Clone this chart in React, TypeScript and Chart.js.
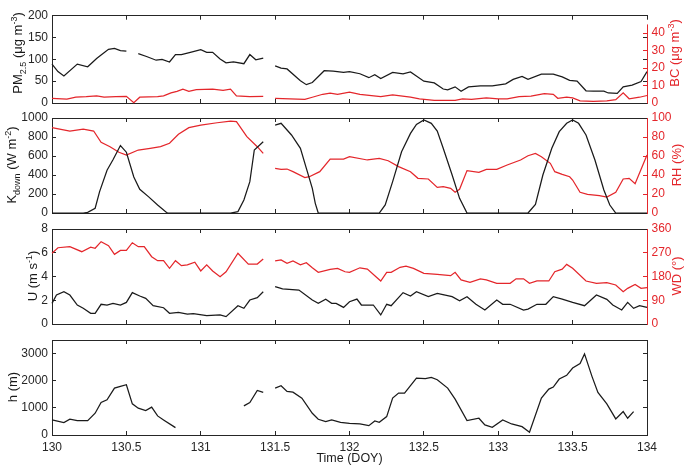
import React, { useEffect, useRef } from 'react';
import { Chart, registerables } from 'chart.js';

Chart.register(...registerables);

const W = 685;
const H = 465;
const FONT = '"Liberation Sans", Arial, Helvetica, sans-serif';
const BLACK = '#1a1a1a';
const FRAME = '#262626';
const RED = '#e4262b';

type Pt = [number, number | null];

// ---- Tick labels ----
const X_TICKS = [130, 130.5, 131, 131.5, 132, 132.5, 133, 133.5, 134];
const PM_TICKS = [0, 50, 100, 150, 200];
const BC_TICKS = [0, 10, 20, 30, 40];
const K_TICKS = [0, 200, 400, 600, 800, 1000];
const RH_TICKS = [0, 20, 40, 60, 80, 100];
const U_TICKS = [0, 2, 4, 6, 8];
const WD_TICKS = [0, 90, 180, 270, 360];
const H_TICKS = [0, 1000, 2000, 3000];

// ---- Series (time DOY, value) ----
const PM25: Pt[] = [
  [130.00, 89], [130.04, 72], [130.08, 62], [130.17, 89], [130.24, 83], [130.30, 102], [130.33, 110],
  [130.38, 123], [130.42, 125], [130.46, 120], [130.50, 119], [130.54, null], [130.58, 113], [130.64, 106],
  [130.70, 98], [130.74, 100], [130.79, 94], [130.83, 111], [130.87, 111], [130.93, 116], [131.00, 122],
  [131.04, 116], [131.08, 116], [131.13, 101], [131.17, 92], [131.22, 94], [131.29, 90], [131.33, 111],
  [131.37, 99], [131.42, 103], [131.46, null], [131.50, 85], [131.54, 80], [131.58, 78], [131.67, 51],
  [131.71, 42], [131.75, 47], [131.83, 74], [131.89, 73], [131.96, 70], [132.00, 72], [132.07, 67],
  [132.13, 58], [132.17, 65], [132.21, 56], [132.29, 70], [132.36, 67], [132.41, 71], [132.50, 50],
  [132.57, 46], [132.63, 32], [132.66, 30], [132.71, 37], [132.75, 27], [132.80, 37], [132.88, 39],
  [132.96, 39], [133.05, 44], [133.10, 54], [133.16, 61], [133.20, 54], [133.29, 66], [133.37, 66],
  [133.43, 60], [133.48, 52], [133.53, 50], [133.59, 28], [133.64, 27], [133.71, 27], [133.74, 23],
  [133.80, 22], [133.84, 37], [133.90, 41], [133.96, 49], [134.00, 72],
];

const BC: Pt[] = [
  [130.00, 2.7], [130.10, 2.2], [130.16, 3.3], [130.23, 3.6], [130.30, 4.1], [130.35, 3.3], [130.43, 3.6],
  [130.50, 3.8], [130.55, 0.2], [130.59, 3.3], [130.71, 3.6], [130.75, 4.1], [130.80, 5.8], [130.84, 6.7],
  [130.88, 7.9], [130.92, 6.7], [130.97, 7.6], [131.08, 7.9], [131.15, 7.2], [131.20, 7.9], [131.24, 4.1],
  [131.33, 3.6], [131.42, 3.8], [131.46, null], [131.50, 2.7], [131.60, 2.4], [131.70, 2.1], [131.75, 3.3],
  [131.82, 5.0], [131.87, 5.7], [131.92, 5.0], [132.00, 6.2], [132.07, 5.0], [132.21, 3.6], [132.29, 4.6],
  [132.41, 3.3], [132.47, 2.4], [132.57, 1.5], [132.71, 1.5], [132.76, 2.4], [132.82, 2.1], [132.92, 2.9],
  [133.00, 2.4], [133.06, 2.4], [133.14, 3.6], [133.22, 4.0], [133.31, 5.3], [133.37, 5.0], [133.40, 2.7],
  [133.46, 3.3], [133.50, 2.9], [133.55, 1.2], [133.64, 1.0], [133.73, 1.2], [133.79, 1.9], [133.84, 5.8],
  [133.88, 2.4], [133.95, 3.3], [134.00, 4.3],
];

const KDOWN: Pt[] = [
  [130.00, 0], [130.21, 0], [130.24, 7], [130.29, 50], [130.32, 225], [130.37, 450], [130.41, 560],
  [130.46, 710], [130.50, 640], [130.55, 380], [130.59, 250], [130.65, 170], [130.71, 85], [130.77, 5],
  [130.78, 0], [131.20, 0], [131.25, 15], [131.29, 137], [131.33, 330], [131.36, 663], [131.42, 750],
  [131.46, null], [131.50, 926], [131.54, 944], [131.61, 821], [131.67, 681], [131.71, 470], [131.75, 260],
  [131.77, 102], [131.79, 0], [132.20, 0], [132.24, 85], [132.29, 330], [132.35, 645], [132.41, 838],
  [132.45, 933], [132.50, 979], [132.55, 944], [132.59, 863], [132.63, 681], [132.69, 400], [132.74, 154],
  [132.79, 0], [133.20, 0], [133.25, 91], [133.30, 400], [133.36, 681], [133.41, 856], [133.46, 944],
  [133.50, 979], [133.54, 944], [133.59, 821], [133.65, 558], [133.71, 242], [133.75, 84], [133.79, 0],
  [134.00, 0],
];

const RH: Pt[] = [
  [130.00, 89.8], [130.12, 86.3], [130.21, 88.4], [130.28, 86.3], [130.33, 74.4], [130.39, 69.8],
  [130.45, 63.9], [130.50, 61.0], [130.58, 66.3], [130.66, 68.1], [130.73, 69.8], [130.79, 73.4],
  [130.85, 82.8], [130.92, 89.8], [131.00, 92.6], [131.11, 95.0], [131.20, 96.8], [131.24, 96.1],
  [131.31, 80.3], [131.38, 69.8], [131.42, 62.8], [131.46, null], [131.50, 47.0], [131.54, 46.0],
  [131.58, 46.3], [131.62, 43.5], [131.70, 37.2], [131.73, 38.2], [131.80, 43.5], [131.87, 56.8],
  [131.96, 56.8], [132.00, 59.3], [132.12, 55.8], [132.20, 57.5], [132.26, 55.0], [132.33, 48.8],
  [132.41, 43.5], [132.46, 36.5], [132.53, 35.8], [132.59, 27.0], [132.63, 27.7], [132.68, 26.0],
  [132.71, 21.8], [132.74, 24.9], [132.79, 44.6], [132.87, 42.8], [132.92, 46.0], [132.99, 46.0],
  [133.06, 50.5], [133.15, 55.8], [133.20, 60.3], [133.25, 62.8], [133.29, 59.3], [133.35, 52.3],
  [133.38, 43.5], [133.43, 40.7], [133.48, 38.2], [133.50, 34.7], [133.55, 21.8], [133.60, 19.6],
  [133.68, 18.2], [133.73, 16.8], [133.79, 21.8], [133.84, 35.8], [133.88, 36.5], [133.92, 30.8],
  [134.00, 61.0],
];

const U: Pt[] = [
  [130.00, 1.74], [130.03, 2.44], [130.08, 2.72], [130.12, 2.44], [130.17, 1.60], [130.21, 1.32],
  [130.26, 0.90], [130.29, 0.90], [130.33, 1.66], [130.37, 1.60], [130.41, 1.74], [130.46, 1.60],
  [130.50, 1.82], [130.54, 2.64], [130.59, 2.36], [130.63, 2.16], [130.68, 1.54], [130.75, 1.37],
  [130.79, 0.90], [130.85, 0.98], [130.91, 0.84], [130.95, 0.88], [131.04, 0.70], [131.13, 0.76],
  [131.17, 0.62], [131.25, 1.54], [131.29, 1.32], [131.33, 2.02], [131.38, 2.22], [131.42, 2.72],
  [131.46, null], [131.50, 3.14], [131.55, 2.95], [131.66, 2.86], [131.75, 2.02], [131.79, 1.74],
  [131.84, 2.08], [131.88, 1.74], [131.91, 1.74], [131.96, 1.40], [132.00, 1.88], [132.05, 2.10],
  [132.08, 1.60], [132.16, 1.60], [132.21, 0.76], [132.25, 1.66], [132.28, 1.54], [132.36, 2.64],
  [132.41, 2.36], [132.45, 2.72], [132.53, 2.30], [132.59, 2.58], [132.69, 2.30], [132.74, 1.96],
  [132.79, 2.30], [132.85, 1.66], [132.91, 1.18], [132.99, 2.02], [133.03, 1.66], [133.08, 1.66],
  [133.17, 1.18], [133.20, 1.26], [133.26, 1.66], [133.32, 1.66], [133.37, 2.30], [133.43, 2.10],
  [133.50, 1.82], [133.58, 1.54], [133.66, 2.44], [133.73, 2.08], [133.77, 1.60], [133.83, 1.18],
  [133.87, 1.82], [133.91, 1.32], [133.95, 1.54], [134.00, 1.40],
];

const WD: Pt[] = [
  [130.00, 268], [130.04, 289], [130.12, 293], [130.20, 274], [130.26, 291], [130.29, 287], [130.33, 312],
  [130.38, 297], [130.42, 264], [130.46, 279], [130.50, 279], [130.54, 308], [130.58, 293], [130.62, 293],
  [130.67, 255], [130.71, 240], [130.75, 240], [130.79, 211], [130.83, 240], [130.87, 221], [130.91, 224],
  [130.96, 234], [131.00, 201], [131.04, 224], [131.08, 201], [131.13, 179], [131.17, 198], [131.25, 268],
  [131.32, 227], [131.38, 227], [131.42, 246], [131.46, null], [131.50, 239], [131.54, 243], [131.58, 230],
  [131.62, 239], [131.67, 224], [131.71, 232], [131.75, 213], [131.79, 196], [131.87, 207], [131.92, 211],
  [131.97, 198], [132.00, 196], [132.07, 213], [132.12, 208], [132.21, 163], [132.25, 196], [132.28, 196],
  [132.34, 215], [132.38, 219], [132.43, 211], [132.50, 192], [132.59, 188], [132.68, 183], [132.71, 196],
  [132.75, 167], [132.81, 158], [132.88, 171], [132.92, 167], [132.99, 154], [133.08, 154], [133.12, 171],
  [133.17, 171], [133.21, 154], [133.26, 163], [133.34, 163], [133.38, 198], [133.43, 208], [133.46, 226],
  [133.50, 211], [133.59, 163], [133.66, 154], [133.73, 157], [133.79, 148], [133.84, 122], [133.87, 135],
  [133.92, 150], [133.96, 135], [134.00, 138],
];

const HMIX: Pt[] = [
  [130.00, 555], [130.08, 456], [130.12, 580], [130.17, 531], [130.24, 531], [130.29, 802], [130.33, 1197],
  [130.37, 1296], [130.42, 1728], [130.46, 1790], [130.50, 1852], [130.54, 1148], [130.58, 988],
  [130.63, 901], [130.67, 1025], [130.71, 703], [130.75, 555], [130.83, 271], [130.90, null],
  [131.29, 1074], [131.33, 1197], [131.38, 1642], [131.42, 1568], [131.46, null], [131.50, 1728],
  [131.54, 1815], [131.58, 1605], [131.62, 1580], [131.68, 1358], [131.75, 802], [131.79, 580],
  [131.84, 494], [131.88, 555], [131.94, 469], [132.00, 432], [132.07, 407], [132.13, 345], [132.17, 519],
  [132.20, 469], [132.25, 679], [132.29, 1358], [132.33, 1543], [132.37, 1543], [132.45, 2099],
  [132.51, 2074], [132.55, 2123], [132.59, 2037], [132.66, 1728], [132.71, 1321], [132.79, 531],
  [132.87, 617], [132.91, 370], [132.96, 284], [133.03, 555], [133.09, 407], [133.16, 308], [133.21, 99],
  [133.29, 1358], [133.34, 1691], [133.37, 1765], [133.41, 2062], [133.46, 2198], [133.50, 2469],
  [133.55, 2630], [133.58, 2988], [133.63, 2160], [133.67, 1568], [133.73, 1148], [133.79, 593],
  [133.84, 864], [133.87, 617], [133.91, 864],
];

type Seg = { t: string; m?: 'sub' | 'sup' };
interface RichItem { segs: Seg[]; x: number; y: number; color: string; rotate: boolean; size?: number }

const richTitlePlugin = {
  id: 'richTitles',
  afterDraw(chart: any, _args: any, opts: any) {
    const ctx: CanvasRenderingContext2D = chart.ctx;
    const items: RichItem[] = (opts && opts.items) || [];
    for (const it of items) {
      const main = it.size || 13;
      const fontFor = (s: Seg) => `${s.m ? Math.round(main * 0.72) : main}px ${FONT}`;
      ctx.save();
      ctx.translate(it.x, it.y);
      if (it.rotate) ctx.rotate(-Math.PI / 2);
      ctx.fillStyle = it.color;
      ctx.textBaseline = 'alphabetic';
      ctx.textAlign = 'left';
      let total = 0;
      const widths = it.segs.map((s) => {
        ctx.font = fontFor(s);
        const w = ctx.measureText(s.t).width;
        total += w;
        return w;
      });
      let cx = -total / 2;
      it.segs.forEach((s, i) => {
        ctx.font = fontFor(s);
        const dy = s.m === 'sub' ? 3.5 : s.m === 'sup' ? -5.5 : 0;
        ctx.fillText(s.t, cx, dy);
        cx += widths[i];
      });
      ctx.restore();
    }
    if (opts && opts.spine) {
      const sc = chart.scales[opts.spine.scale];
      const x = Math.round(chart.chartArea.right - 0.5) + 0.5;
      ctx.save();
      ctx.strokeStyle = opts.spine.color;
      ctx.lineWidth = 1;
      ctx.beginPath();
      ctx.moveTo(x, sc.getPixelForValue(opts.spine.from) + 0.5);
      ctx.lineTo(x, sc.getPixelForValue(opts.spine.to));
      ctx.stroke();
      ctx.restore();
    }
  },
};

interface AxisSpec { min: number; max: number; ticks: number[]; spineTo?: number }
interface PanelSpec {
  top: number;
  bottom: number;
  left: AxisSpec;
  right?: AxisSpec;
  black: Pt[];
  red?: Pt[];
  showX: boolean;
  titles: RichItem[];
}

const toXY = (pts: Pt[]) => pts.map(([x, y]) => ({ x, y }));

function makeConfig(p: PanelSpec): any {
  const tickFont = { family: FONT, size: 12 };
  const xAxisH = p.showX ? 22 : 0;
  const xCommon = (position: string, showLabels: boolean, height: number) => ({
    type: 'linear',
    position,
    min: 130,
    max: 134,
    afterBuildTicks: (s: any) => { s.ticks = X_TICKS.map((v) => ({ value: v })); },
    afterFit: (s: any) => { s.height = height; },
    ticks: {
      display: showLabels, padding: 9, color: FRAME, font: tickFont, maxRotation: 0, minRotation: 0, autoSkip: false,
      callback: (v: any) => String(v),
    },
    grid: { drawOnChartArea: false, drawTicks: true, tickLength: -4, color: FRAME, lineWidth: 1 },
    border: { display: true, color: FRAME, width: 1 },
  });
  const scales: any = {
    x: xCommon('bottom', p.showX, xAxisH),
    xTop: xCommon('top', false, 0),
    y: {
      type: 'linear', position: 'left', min: p.left.min, max: p.left.max,
      afterBuildTicks: (s: any) => { s.ticks = p.left.ticks.map((v) => ({ value: v })); },
      afterFit: (s: any) => { s.width = 52; },
      ticks: { padding: 8, color: FRAME, font: tickFont, callback: (v: any) => String(v) },
      grid: { drawOnChartArea: false, drawTicks: true, tickLength: -4, color: FRAME, lineWidth: 1 },
      border: { display: true, color: FRAME, width: 1 },
    },
    yMirror: {
      type: 'linear', position: 'right', weight: 0, min: p.left.min, max: p.left.max,
      afterBuildTicks: (s: any) => { s.ticks = p.left.ticks.map((v) => ({ value: v })); },
      afterFit: (s: any) => { s.width = 0; },
      ticks: { display: false },
      grid: { drawOnChartArea: false, drawTicks: true, tickLength: -4, color: FRAME, lineWidth: 1 },
      border: { display: !p.right, color: FRAME, width: 1 },
    },
  };
  if (p.right) {
    const r = p.right;
    scales.yR = {
      type: 'linear', position: 'right', weight: 1, min: r.min, max: r.max,
      afterBuildTicks: (s: any) => { s.ticks = r.ticks.map((v) => ({ value: v })); },
      afterFit: (s: any) => { s.width = 38; },
      ticks: { padding: 8.5, color: RED, font: tickFont, callback: (v: any) => String(v) },
      grid: { drawOnChartArea: false, drawTicks: true, tickLength: -4, color: RED, lineWidth: 1 },
      border: { display: r.spineTo === undefined, color: RED, width: 1 },
    };
  }
  const datasets: any[] = [
    {
      data: toXY(p.black), yAxisID: 'y', borderColor: BLACK, borderWidth: 1.25,
      pointRadius: 0, spanGaps: false, tension: 0, clip: false, fill: false,
    },
  ];
  if (p.red) {
    datasets.push({
      data: toXY(p.red), yAxisID: 'yR', borderColor: RED, borderWidth: 1.25,
      pointRadius: 0, spanGaps: false, tension: 0, clip: false, fill: false,
    });
  }
  return {
    type: 'line',
    data: { datasets },
    plugins: [richTitlePlugin],
    options: {
      animation: false,
      responsive: false,
      devicePixelRatio: 1,
      events: [],
      layout: { padding: { left: 0, right: p.right ? 0 : 38, top: p.top, bottom: H - p.bottom - xAxisH } },
      plugins: {
        legend: { display: false },
        tooltip: { enabled: false },
        richTitles: {
          items: p.titles,
          spine: p.right && p.right.spineTo !== undefined
            ? { scale: 'yR', from: p.right.min, to: p.right.spineTo, color: RED }
            : null,
        },
      },
      scales,
    },
  };
}

const PANELS: PanelSpec[] = [
  {
    top: 6, bottom: 103, showX: false,
    left: { min: 0, max: 200, ticks: PM_TICKS },
    right: { min: 0, max: 50, ticks: BC_TICKS, spineTo: 45 },
    black: PM25, red: BC,
    titles: [
      { segs: [{ t: 'PM' }, { t: '2.5', m: 'sub' }, { t: ' (μg m' }, { t: '-3', m: 'sup' }, { t: ')' }], x: 22, y: 53, color: BLACK, rotate: true },
      { segs: [{ t: 'BC (μg m' }, { t: '-3', m: 'sup' }, { t: ')' }], x: 679, y: 53, color: RED, rotate: true },
    ],
  },
  {
    top: 118, bottom: 213, showX: false,
    left: { min: 0, max: 1000, ticks: K_TICKS },
    right: { min: 0, max: 100, ticks: RH_TICKS },
    black: KDOWN, red: RH,
    titles: [
      { segs: [{ t: 'K' }, { t: 'down', m: 'sub' }, { t: ' (W m' }, { t: '-2', m: 'sup' }, { t: ')' }], x: 16, y: 165, color: BLACK, rotate: true },
      { segs: [{ t: 'RH (%)' }], x: 681, y: 165, color: RED, rotate: true },
    ],
  },
  {
    top: 229, bottom: 324, showX: false,
    left: { min: 0, max: 8, ticks: U_TICKS },
    right: { min: 0, max: 360, ticks: WD_TICKS },
    black: U, red: WD,
    titles: [
      { segs: [{ t: 'U (m s' }, { t: '-1', m: 'sup' }, { t: ')' }], x: 37, y: 276, color: BLACK, rotate: true },
      { segs: [{ t: 'WD (°)' }], x: 681, y: 276, color: RED, rotate: true },
    ],
  },
  {
    top: 340, bottom: 435, showX: true,
    left: { min: 0, max: 3500, ticks: H_TICKS },
    black: HMIX,
    titles: [
      { segs: [{ t: 'h (m)' }], x: 17, y: 387, color: BLACK, rotate: true },
      { segs: [{ t: 'Time (DOY)' }], x: 349.5, y: 462, color: BLACK, rotate: false, size: 12.5 },
    ],
  },
];

export default function App() {
  const refs = useRef<(HTMLCanvasElement | null)[]>([]);
  useEffect(() => {
    const charts = PANELS.map((p, i) => {
      const c = refs.current[i] as HTMLCanvasElement;
      return new Chart(c, makeConfig(p));
    });
    return () => charts.forEach((c) => c.destroy());
  }, []);
  return (
    <div style={{ position: 'absolute', left: 0, top: 0, width: W, height: H, background: '#fff' }}>
      {PANELS.map((_, i) => (
        <canvas
          key={i}
          ref={(el) => { refs.current[i] = el; }}
          width={W}
          height={H}
          style={{ position: 'absolute', left: 0, top: 0, width: W, height: H }}
        />
      ))}
    </div>
  );
}
